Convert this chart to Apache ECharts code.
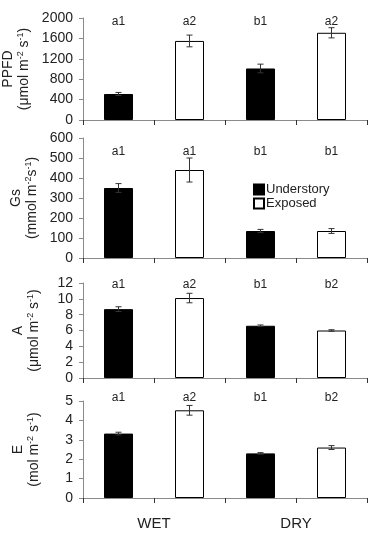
<!DOCTYPE html>
<html>
<head>
<meta charset="utf-8">
<script src="https://cdn.jsdelivr.net/npm/echarts@6/dist/echarts.min.js"></script>
<style>
html, body { margin: 0; padding: 0; background: #fff; }
#chart { width: 370px; height: 533px; }
</style>
</head>
<body>
<div id="chart"></div>
<script>
// treatments: understory / exposed under wet and dry season
var seasons = ['WET', 'DRY'];
var slots = ['wet-u', 'wet-e', 'dry-u', 'dry-e'];

var ppfd = [510, 1550, 1010, 1710];
var ppfdErr = [30, 115, 85, 100];
var ppfdLetters = ['a1', 'a2', 'b1', 'a2'];

var gs = [350, 440, 135, 135];
var gsErr = [22, 60, 8, 12];
var gsLetters = ['a1', 'a1', 'b1', 'b1'];

var photo = [8.7, 10.1, 6.6, 6.0];
var photoErr = [0.3, 0.6, 0.1, 0.1];
var photoLetters = ['a1', 'a2', 'b1', 'b2'];

var transp = [3.32, 4.52, 2.3, 2.6];
var transpErr = [0.07, 0.25, 0.04, 0.1];
var transpLetters = ['a1', 'a2', 'b1', 'b2'];

var FONT = 'Liberation Sans, Arial, sans-serif';
var AXIS_COLOR = '#8a8a8a';

// layout of the four stacked panels
var panels = [
    {top: 18, height: 102, max: 2000, interval: 400, letterY: 1930,
        name: '{t|PPFD}\n{t|(μmol m}{s|-2}{t| s}{s|-1}{t|)}',
        vals: ppfd, errs: ppfdErr, letters: ppfdLetters},
    {top: 138, height: 120, max: 600, interval: 100, letterY: 530,
        name: '{t|Gs}\n{t|(mmol m}{s|-2}{t|s}{s|-1}{t|)}',
        vals: gs, errs: gsErr, letters: gsLetters},
    {top: 283, height: 95, max: 12, interval: 2, letterY: 11.8,
        name: '{t|A}\n{t|(μmol m}{s|-2}{t| s}{s|-1}{t|)}',
        vals: photo, errs: photoErr, letters: photoLetters},
    {top: 401, height: 97, max: 5, interval: 1, letterY: 5.15,
        name: '{t|E}\n{t|(mol m}{s|-2}{t| s}{s|-1}{t|)}',
        vals: transp, errs: transpErr, letters: transpLetters}
];

var grids = [], xAxes = [], yAxes = [], series = [];

panels.forEach(function (p, k) {
    grids.push({left: 83, right: 3, top: p.top, height: p.height,
        containLabel: false, outerBoundsMode: 'none'});
    xAxes.push({
        type: 'category', gridIndex: k, data: slots,
        axisLine: {lineStyle: {color: AXIS_COLOR, width: 1}},
        axisTick: {show: true, length: 5, lineStyle: {color: '#333'}},
        axisLabel: {show: false}
    });
    yAxes.push({
        type: 'value', gridIndex: k, min: 0, max: p.max, interval: p.interval,
        name: p.name, nameLocation: 'middle', nameRotate: 90, nameGap: 41,
        nameTextStyle: {
            rich: {
                t: {fontSize: 14, fontFamily: FONT, color: '#222', lineHeight: 16},
                s: {fontSize: 9, fontFamily: FONT, color: '#222', lineHeight: 16, verticalAlign: 'top'}
            }
        },
        axisLine: {show: true, lineStyle: {color: AXIS_COLOR}},
        axisTick: {show: true, length: 4, lineStyle: {color: AXIS_COLOR}},
        axisLabel: {fontSize: 14, fontFamily: FONT, color: '#222', margin: 10,
            formatter: function (v) { return String(v); }},
        splitLine: {show: false}
    });
    var under = p.vals.map(function (v, i) { return i % 2 === 0 ? v : '-'; });
    var expo = p.vals.map(function (v, i) { return i % 2 === 1 ? v : '-'; });
    series.push({
        name: 'Understory', type: 'bar', xAxisIndex: k, yAxisIndex: k,
        data: under, barWidth: 29, barGap: '-100%',
        itemStyle: {color: '#000', borderColor: '#000', borderWidth: 1}
    });
    series.push({
        name: 'Exposed', type: 'bar', xAxisIndex: k, yAxisIndex: k,
        data: expo, barWidth: 29, barGap: '-100%',
        itemStyle: {color: '#fff', borderColor: '#000', borderWidth: 1}
    });
    // error bars and significance letters
    series.push({
        type: 'custom', xAxisIndex: k, yAxisIndex: k, z: 5,
        data: p.vals.map(function (v, i) { return [i, v, p.errs[i]]; }),
        renderItem: function (params, api) {
            var i = api.value(0), v = api.value(1), e = api.value(2);
            var hi = api.coord([i, v + e]);
            var lo = api.coord([i, v - e]);
            var lt = api.coord([i, p.letterY]);
            var w = 3;
            var st = {stroke: '#333', lineWidth: 1};
            return {
                type: 'group',
                children: [
                    {type: 'line', shape: {x1: hi[0], y1: hi[1], x2: lo[0], y2: lo[1]}, style: st},
                    {type: 'line', shape: {x1: hi[0] - w, y1: hi[1], x2: hi[0] + w, y2: hi[1]}, style: st},
                    {type: 'line', shape: {x1: lo[0] - w, y1: lo[1], x2: lo[0] + w, y2: lo[1]}, style: st},
                    {type: 'text', x: lt[0], y: lt[1], style: {
                        text: p.letters[params.dataIndex], fontSize: 12, fontFamily: FONT,
                        fill: '#222', align: 'center', verticalAlign: 'middle'}}
                ]
            };
        }
    });
});

// season labels under the bottom panel
xAxes.push({
    type: 'category', gridIndex: 3, data: seasons, position: 'bottom',
    axisLine: {show: false}, axisTick: {show: false},
    axisLabel: {fontSize: 15, fontFamily: FONT, color: '#222', margin: 18}
});

var chart = echarts.init(document.getElementById('chart'));
chart.setOption({
    backgroundColor: '#fff',
    animation: false,
    grid: grids,
    xAxis: xAxes,
    yAxis: yAxes,
    legend: {
        data: ['Understory', 'Exposed'],
        orient: 'vertical', left: 248, top: 178,
        icon: 'rect',
        itemWidth: 10, itemHeight: 10, itemGap: 1,
        textStyle: {fontSize: 13, fontFamily: FONT, color: '#222', padding: [0, 0, 0, -3]}
    },
    series: series
});
</script>
</body>
</html>
